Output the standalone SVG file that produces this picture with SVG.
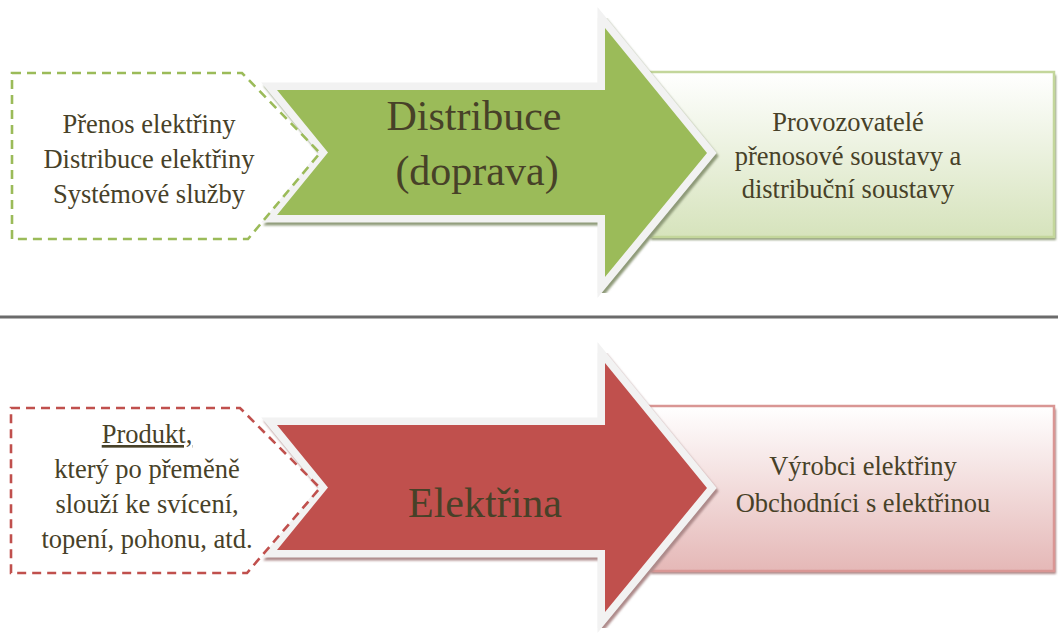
<svg xmlns="http://www.w3.org/2000/svg" width="1058" height="637" viewBox="0 0 1058 637">
<style>
.t{font-family:"Liberation Serif","Times New Roman",serif;fill:#474128;text-anchor:middle}
.s{font-size:26.5px}
.b{font-size:42px}
.arrow{stroke:#f2f2f2;stroke-width:15;stroke-linejoin:miter;paint-order:stroke}
.pent{fill:none;stroke-width:2.6;stroke-dasharray:9 6}
</style>
<defs>
<linearGradient id="gG" x1="0" y1="0" x2="0" y2="1">
<stop offset="0" stop-color="#ffffff"/><stop offset="1" stop-color="#d6e3bc"/>
</linearGradient>
<linearGradient id="gR" x1="0" y1="0" x2="0" y2="1">
<stop offset="0" stop-color="#ffffff"/><stop offset="1" stop-color="#e5b8b7"/>
</linearGradient>
<filter id="blur" x="-5%" y="-5%" width="110%" height="110%"><feGaussianBlur stdDeviation="0.8"/></filter>
<path id="arr" d="M277,90 L605,90 L605,28 L707,153 L605,277 L605,215 L277,215 L328,152.5 Z"/>
</defs>

<line x1="0" y1="317" x2="1058" y2="317" stroke="#6b6b6b" stroke-width="3"/>

<!-- top row -->
<g id="box-top">
<rect x="651" y="75" width="405" height="165" fill="#8e9a78" filter="url(#blur)"/>
<rect x="649" y="72" width="405" height="165" fill="url(#gG)" stroke="#c3d69b" stroke-width="2.5"/>
<text class="t s" x="848" y="131">Provozovatelé</text>
<text class="t s" x="848" y="165">přenosové soustavy a</text>
<text class="t s" x="848" y="198">distribuční soustavy</text>
</g>
<g id="arrow-top">
<use href="#arr" transform="translate(2,3)" fill="#8e9a78" stroke="#8e9a78" stroke-width="15" filter="url(#blur)"/>
<use href="#arr" class="arrow" fill="#9bbb59"/>
<text class="t b" x="474" y="130">Distribuce</text>
<text class="t b" x="477" y="185">(doprava)</text>
</g>
<g id="pent-top">
<path class="pent" stroke="#9bbb59" d="M12,73 L242,73 L320,153 L248,239 L12,239 Z"/>
<text class="t s" x="149" y="133">Přenos elektřiny</text>
<text class="t s" x="149" y="168">Distribuce elektřiny</text>
<text class="t s" x="149" y="203">Systémové služby</text>
</g>

<!-- bottom row -->
<g id="box-bottom">
<rect x="651" y="409" width="405" height="165" fill="#ad8a8a" filter="url(#blur)"/>
<rect x="649" y="406" width="405" height="165" fill="url(#gR)" stroke="#d99694" stroke-width="2.5"/>
<text class="t s" x="863" y="475">Výrobci elektřiny</text>
<text class="t s" x="863" y="512">Obchodníci s elektřinou</text>
</g>
<g id="arrow-bottom">
<use href="#arr" transform="translate(2,338)" fill="#ad8a8a" stroke="#ad8a8a" stroke-width="15" filter="url(#blur)"/>
<use href="#arr" transform="translate(0,335)" class="arrow" fill="#c0504d"/>
<text class="t b" x="485" y="517">Elektřina</text>
</g>
<g id="pent-bottom">
<path class="pent" stroke="#c0504d" d="M11,408 L240,408 L320,488 L247,573 L11,573 Z"/>
<text class="t s" x="147" y="443" style="text-decoration:underline">Produkt,</text>
<text class="t s" x="147" y="478">který po přeměně</text>
<text class="t s" x="147" y="513">slouží ke svícení,</text>
<text class="t s" x="147" y="548">topení, pohonu, atd.</text>
</g>
</svg>
